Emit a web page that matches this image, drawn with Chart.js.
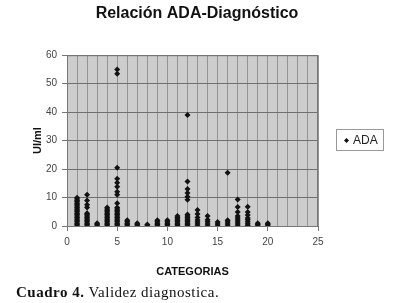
<!DOCTYPE html>
<html><head><meta charset="utf-8">
<script src="https://cdn.jsdelivr.net/npm/chart.js@4.4.1/dist/chart.umd.min.js"></script>
<style>
html,body{margin:0;padding:0;background:#fff;}
#wrap{position:relative;width:404px;height:303px;overflow:hidden;}
#c{position:absolute;left:0;top:0;}
#cap{position:absolute;left:16px;top:284px;font-family:"Liberation Serif","Times New Roman",serif;font-size:15px;letter-spacing:0.5px;line-height:16px;color:#111;white-space:nowrap;}
</style></head><body>
<div id="wrap"><canvas id="c" width="404" height="285"></canvas>
<div id="cap"><b>Cuadro 4.</b> Validez diagnostica.</div></div>
<script>
const chartTitle = 'Relación ADA-Diagnóstico';
const seriesName = 'ADA';
const xAxisTitle = 'CATEGORIAS';
const yAxisTitle = 'UI/ml';
const xTickLabels = [0, 5, 10, 15, 20, 25];
const yTickLabels = [0, 10, 20, 30, 40, 50, 60];
const categories = [1,2,3,4,5,6,7,8,9,10,11,12,13,14,15,16,17,18,19,20];
const cat1  = [0,0.5,1,1.5,2,2.5,3,3.5,4,4.5,5,5.5,6,6.5,7,7.5,8,8.5,9,9.5,9.9];
const cat2  = [0,0.5,1,1.5,2,2.5,3,3.5,4,4.5,6.5,7.5,9,11];
const cat3  = [0,0.5,1];
const cat4  = [0,0.5,1,1.5,2,2.5,3,3.5,4,4.5,5,5.5,6,6.5];
const cat5  = [0,0.5,1,1.5,2,2.5,3,3.5,4,4.5,5,5.5,6,6.5,8,11,12,13.8,15.2,16.6,20.5,53.5,55];
const cat6  = [0,0.5,1,1.5,2];
const cat7  = [0,0.5,1];
const cat8  = [0,0.5];
const cat9  = [0,0.5,1,1.5,2];
const cat10 = [0,0.5,1,1.5,2];
const cat11 = [0,0.5,1,1.5,2,2.5,3,3.5];
const cat12 = [0,0.5,1,1.5,2,2.5,3,3.5,4,9.2,10.3,11.6,13,15.6,39];
const cat13 = [0,0.7,1.4,2.1,3,4.2,5.6];
const cat14 = [0,0.7,1.5,2.2,3.5];
const cat15 = [0,0.7,1.4];
const cat16 = [0,0.7,1.4,2,18.7];
const cat17 = [0,0.7,1.4,2.1,2.8,3.5,4.9,6.7,9.3];
const cat18 = [0,0.3,0.8,1.5,2.2,2.8,3.9,4.9,6.8];
const cat19 = [0,0.5,1];
const cat20 = [0,0.5,1];
const valuesByCategory = [cat1,cat2,cat3,cat4,cat5,cat6,cat7,cat8,cat9,cat10,cat11,cat12,cat13,cat14,cat15,cat16,cat17,cat18,cat19,cat20];

const points = [];
categories.forEach((c, i) => valuesByCategory[i].forEach(v => points.push({x: c, y: v})));

const plotBg = {
  id: 'plotBg',
  beforeDraw(chart) {
    const {ctx, chartArea: a} = chart;
    ctx.save();
    ctx.fillStyle = '#cdcdcd';
    ctx.fillRect(a.left, a.top, a.right - a.left, a.bottom - a.top);
    ctx.restore();
  },
  afterDraw(chart) {
    const {ctx, chartArea: a} = chart;
    ctx.save();
    ctx.strokeStyle = '#777';
    ctx.lineWidth = 1;
    ctx.strokeRect(a.left + 0.5, a.top + 0.5, a.right - a.left - 1, a.bottom - a.top);
    // legend box
    const lx = 336, ly = 129, lw = 47, lh = 21;
    ctx.strokeStyle = '#999';
    ctx.strokeRect(lx + 0.5, ly + 0.5, lw, lh);
    const ds = chart.data.datasets[0];
    ctx.fillStyle = '#111';
    Chart.helpers.drawPoint(ctx, {pointStyle: 'rectRot', radius: 2.5, borderWidth: 0}, 346.5, 140.5);
    ctx.font = '12px "Liberation Sans", Arial, sans-serif';
    ctx.textBaseline = 'middle';
    ctx.fillStyle = '#222';
    ctx.fillText(ds.label, 353, 140.5);
    ctx.restore();
  }
};

new Chart(document.getElementById('c'), {
  type: 'scatter',
  data: {
    datasets: [{
      label: seriesName,
      data: points,
      pointStyle: 'rectRot',
      pointRadius: 3,
      backgroundColor: '#111',
      borderColor: '#111',
      borderWidth: 0
    }]
  },
  options: {
    responsive: false,
    animation: false,
    layout: {padding: {left: 0, right: 10, top: 0, bottom: 0}},
    plugins: {
      legend: {display: false},
      tooltip: {enabled: false},
      title: {
        display: true,
        text: chartTitle,
        color: '#111',
        font: {family: '"Liberation Sans", Arial, sans-serif', size: 16, weight: 'bold'},
        padding: {top: 4, bottom: 32}
      }
    },
    scales: {
      x: {
        type: 'linear',
        min: 0, max: 25,
        afterFit: s => { s.height = 59; },
        afterBuildTicks: s => { s.ticks = Array.from({length: 26}, (_, i) => ({value: i})); },
        ticks: {
          autoSkip: false,
          maxRotation: 0,
          padding: 5,
          color: '#444',
          font: {family: '"Liberation Sans", Arial, sans-serif', size: 10},
          callback: v => xTickLabels.includes(v) ? String(v) : ''
        },
        grid: {color: '#949494', lineWidth: 1, drawTicks: true, tickLength: 5, tickColor: ctx => (ctx.tick && ctx.tick.value % 5 === 0) ? '#777' : 'rgba(0,0,0,0)'},
        border: {display: true, color: '#777'},
        title: {
          display: true, text: xAxisTitle, color: '#111',
          font: {family: '"Liberation Sans", Arial, sans-serif', size: 11, weight: 'bold'},
          padding: {top: 0, bottom: 6}
        }
      },
      y: {
        type: 'linear',
        min: 0, max: 60,
        afterFit: s => { s.width = 67; },
        afterBuildTicks: s => { s.ticks = yTickLabels.map(v => ({value: v})); },
        ticks: {
          padding: 5,
          color: '#444',
          font: {family: '"Liberation Sans", Arial, sans-serif', size: 10}
        },
        grid: {color: '#6f6f6f', lineWidth: 1, drawTicks: true, tickLength: 5, tickColor: '#777'},
        border: {display: true, color: '#777'},
        title: {
          display: true, text: yAxisTitle, color: '#111',
          font: {family: '"Liberation Sans", Arial, sans-serif', size: 11, weight: 'bold'},
          padding: {top: 31, bottom: 0}
        }
      },
      r: {
        type: 'linear',
        position: 'right',
        display: true,
        min: 0, max: 1,
        afterFit: s => { s.width = 76; },
        ticks: {display: false},
        grid: {display: false, drawTicks: false},
        border: {display: false}
      }
    }
  },
  plugins: [plotBg]
});
</script>
</body></html>
